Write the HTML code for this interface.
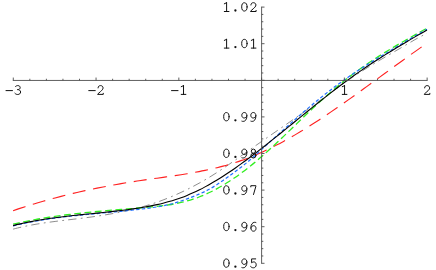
<!DOCTYPE html>
<html><head><meta charset="utf-8"><title>plot</title>
<style>
html,body{margin:0;padding:0;background:#fff;}
body{width:436px;height:270px;overflow:hidden;position:relative;font-family:"Liberation Mono",monospace;}
</style></head><body>
<svg width="436" height="270" viewBox="0 0 436 270" style="position:absolute;left:0;top:0">
<g fill="none" stroke-linecap="butt">
<path d="M13.10 229.12 C14.10 228.87 17.10 228.09 19.10 227.62 C21.10 227.15 23.10 226.71 25.10 226.29 C27.10 225.87 29.10 225.48 31.10 225.10 C33.10 224.73 35.09 224.38 37.09 224.05 C39.09 223.71 41.09 223.40 43.09 223.10 C45.09 222.79 47.09 222.51 49.09 222.23 C51.09 221.96 53.09 221.70 55.09 221.44 C57.09 221.18 59.09 220.94 61.09 220.70 C63.09 220.45 65.09 220.22 67.09 219.98 C69.09 219.75 71.09 219.51 73.09 219.28 C75.09 219.04 77.08 218.81 79.08 218.56 C81.08 218.32 83.08 218.08 85.08 217.82 C87.08 217.57 89.08 217.31 91.08 217.03 C93.08 216.76 95.08 216.47 97.08 216.18 C99.08 215.88 101.08 215.57 103.08 215.25 C105.08 214.93 107.08 214.59 109.08 214.24 C111.08 213.89 113.08 213.52 115.08 213.14 C117.07 212.76 119.07 212.36 121.07 211.95 C123.07 211.53 125.07 211.10 127.07 210.65 C129.07 210.20 131.07 209.73 133.07 209.24 C135.07 208.75 137.07 208.24 139.07 207.71 C141.07 207.17 143.07 206.62 145.07 206.03 C147.07 205.44 149.07 204.83 151.07 204.19 C153.07 203.55 155.07 202.88 157.07 202.18 C159.06 201.48 161.06 200.75 163.06 199.99 C165.06 199.23 167.06 198.45 169.06 197.63 C171.06 196.81 173.06 195.97 175.06 195.09 C177.06 194.22 179.06 193.32 181.06 192.39 C183.06 191.46 185.06 190.50 187.06 189.51 C189.06 188.52 191.06 187.50 193.06 186.46 C195.06 185.41 197.06 184.34 199.06 183.23 C201.05 182.13 203.05 180.99 205.05 179.82 C207.05 178.65 209.05 177.45 211.05 176.22 C213.05 174.98 215.05 173.71 217.05 172.42 C219.05 171.12 221.05 169.80 223.05 168.45 C225.05 167.11 227.05 165.74 229.05 164.37 C231.05 162.99 233.05 161.59 235.05 160.19 C237.05 158.78 239.05 157.37 241.04 155.95 C243.04 154.54 245.04 153.12 247.04 151.70 C249.04 150.29 251.04 148.88 253.04 147.47 C255.04 146.06 257.04 144.66 259.04 143.27 C261.04 141.87 263.04 140.48 265.04 139.09 C267.04 137.70 269.04 136.32 271.04 134.93 C273.04 133.54 275.04 132.16 277.04 130.77 C279.04 129.39 281.04 128.00 283.03 126.61 C285.03 125.22 287.03 123.83 289.03 122.44 C291.03 121.04 293.03 119.64 295.03 118.23 C297.03 116.83 299.03 115.42 301.03 114.01 C303.03 112.59 305.03 111.17 307.03 109.75 C309.03 108.33 311.03 106.90 313.03 105.47 C315.03 104.04 317.03 102.61 319.03 101.17 C321.03 99.74 323.03 98.30 325.02 96.85 C327.02 95.41 329.02 93.96 331.02 92.51 C333.02 91.07 335.02 89.61 337.02 88.17 C339.02 86.73 341.02 85.29 343.02 83.87 C345.02 82.45 347.02 81.04 349.02 79.67 C351.02 78.29 353.02 76.94 355.02 75.62 C357.02 74.29 359.02 72.99 361.02 71.71 C363.02 70.43 365.01 69.17 367.01 67.93 C369.01 66.68 371.01 65.46 373.01 64.25 C375.01 63.04 377.01 61.84 379.01 60.65 C381.01 59.46 383.01 58.29 385.01 57.11 C387.01 55.94 389.01 54.78 391.01 53.62 C393.01 52.45 395.01 51.30 397.01 50.14 C399.01 48.97 401.01 47.82 403.01 46.65 C405.01 45.48 407.00 44.31 409.00 43.14 C411.00 41.97 413.00 40.75 415.00 39.62 C417.00 38.49 419.00 37.43 421.00 36.36 C423.00 35.29 426.00 33.73 427.00 33.20" stroke="#808080" stroke-width="0.9" stroke-dasharray="8.3 4.4 1.8 4.13"/>
<path d="M13.10 210.66 C14.10 210.32 17.10 209.30 19.10 208.64 C21.10 207.97 23.10 207.32 25.10 206.68 C27.10 206.05 29.10 205.42 31.10 204.80 C33.10 204.18 35.09 203.58 37.09 202.98 C39.09 202.39 41.09 201.81 43.09 201.23 C45.09 200.66 47.09 200.10 49.09 199.54 C51.09 198.99 53.09 198.45 55.09 197.92 C57.09 197.38 59.09 196.86 61.09 196.35 C63.09 195.84 65.09 195.34 67.09 194.84 C69.09 194.35 71.09 193.87 73.09 193.39 C75.09 192.92 77.08 192.45 79.08 192.00 C81.08 191.54 83.08 191.09 85.08 190.65 C87.08 190.22 89.08 189.79 91.08 189.37 C93.08 188.94 95.08 188.53 97.08 188.13 C99.08 187.72 101.08 187.33 103.08 186.94 C105.08 186.55 107.08 186.17 109.08 185.80 C111.08 185.43 113.08 185.06 115.08 184.71 C117.07 184.35 119.07 184.00 121.07 183.66 C123.07 183.31 125.07 182.98 127.07 182.65 C129.07 182.32 131.07 182.00 133.07 181.69 C135.07 181.37 137.07 181.07 139.07 180.76 C141.07 180.46 143.07 180.17 145.07 179.88 C147.07 179.59 149.07 179.30 151.07 179.02 C153.07 178.74 155.07 178.46 157.07 178.18 C159.06 177.90 161.06 177.62 163.06 177.34 C165.06 177.05 167.06 176.77 169.06 176.48 C171.06 176.19 173.06 175.90 175.06 175.60 C177.06 175.31 179.06 175.00 181.06 174.69 C183.06 174.38 185.06 174.06 187.06 173.72 C189.06 173.39 191.06 173.05 193.06 172.70 C195.06 172.34 197.06 171.97 199.06 171.59 C201.05 171.21 203.05 170.81 205.05 170.39 C207.05 169.98 209.05 169.55 211.05 169.10 C213.05 168.65 215.05 168.18 217.05 167.68 C219.05 167.19 221.05 166.68 223.05 166.14 C225.05 165.60 227.05 165.05 229.05 164.46 C231.05 163.87 233.05 163.26 235.05 162.62 C237.05 161.98 239.05 161.31 241.04 160.61 C243.04 159.92 245.04 159.19 247.04 158.43 C249.04 157.67 251.04 156.88 253.04 156.06 C255.04 155.23 257.04 154.38 259.04 153.50 C261.04 152.62 263.04 151.71 265.04 150.78 C267.04 149.84 269.04 148.88 271.04 147.89 C273.04 146.90 275.04 145.89 277.04 144.85 C279.04 143.81 281.04 142.74 283.03 141.66 C285.03 140.57 287.03 139.46 289.03 138.33 C291.03 137.20 293.03 136.05 295.03 134.88 C297.03 133.70 299.03 132.51 301.03 131.30 C303.03 130.09 305.03 128.86 307.03 127.61 C309.03 126.36 311.03 125.10 313.03 123.82 C315.03 122.53 317.03 121.24 319.03 119.93 C321.03 118.62 323.03 117.29 325.02 115.95 C327.02 114.61 329.02 113.26 331.02 111.90 C333.02 110.53 335.02 109.16 337.02 107.77 C339.02 106.39 341.02 104.99 343.02 103.58 C345.02 102.18 347.02 100.76 349.02 99.34 C351.02 97.92 353.02 96.49 355.02 95.06 C357.02 93.62 359.02 92.18 361.02 90.74 C363.02 89.29 365.01 87.84 367.01 86.39 C369.01 84.94 371.01 83.48 373.01 82.02 C375.01 80.56 377.01 79.10 379.01 77.64 C381.01 76.18 383.01 74.72 385.01 73.26 C387.01 71.80 389.01 70.34 391.01 68.88 C393.01 67.42 395.01 65.97 397.01 64.52 C399.01 63.07 401.01 61.62 403.01 60.18 C405.01 58.74 407.00 57.30 409.00 55.87 C411.00 54.44 413.00 53.02 415.00 51.60 C417.00 50.19 419.00 48.78 421.00 47.38 C423.00 45.98 426.00 43.91 427.00 43.22" stroke="#ff2020" stroke-width="1.1" stroke-dasharray="13 7.710"/>
<path d="M13.10 224.20 C14.10 223.97 17.10 223.27 19.10 222.83 C21.10 222.39 23.10 221.97 25.10 221.56 C27.10 221.15 29.10 220.75 31.10 220.37 C33.10 219.98 35.09 219.61 37.09 219.26 C39.09 218.90 41.09 218.55 43.09 218.22 C45.09 217.89 47.09 217.57 49.09 217.26 C51.09 216.95 53.09 216.65 55.09 216.36 C57.09 216.07 59.09 215.79 61.09 215.52 C63.09 215.25 65.09 215.00 67.09 214.74 C69.09 214.49 71.09 214.25 73.09 214.01 C75.09 213.78 77.08 213.55 79.08 213.33 C81.08 213.11 83.08 212.90 85.08 212.69 C87.08 212.48 89.08 212.28 91.08 212.09 C93.08 211.89 95.08 211.70 97.08 211.52 C99.08 211.33 101.08 211.15 103.08 210.97 C105.08 210.80 107.08 210.62 109.08 210.45 C111.08 210.28 113.08 210.11 115.08 209.95 C117.07 209.78 119.07 209.62 121.07 209.45 C123.07 209.29 125.07 209.13 127.07 208.97 C129.07 208.81 131.07 208.65 133.07 208.49 C135.07 208.33 137.07 208.17 139.07 208.00 C141.07 207.83 143.07 207.66 145.07 207.49 C147.07 207.31 149.07 207.13 151.07 206.94 C153.07 206.74 155.07 206.55 157.07 206.33 C159.06 206.11 161.06 205.88 163.06 205.61 C165.06 205.35 167.06 205.08 169.06 204.76 C171.06 204.45 173.06 204.11 175.06 203.73 C177.06 203.35 179.06 202.94 181.06 202.48 C183.06 202.02 185.06 201.52 187.06 200.97 C189.06 200.41 191.06 199.81 193.06 199.15 C195.06 198.49 197.06 197.78 199.06 197.01 C201.05 196.25 203.05 195.43 205.05 194.55 C207.05 193.68 209.05 192.75 211.05 191.76 C213.05 190.78 215.05 189.74 217.05 188.65 C219.05 187.56 221.05 186.42 223.05 185.22 C225.05 184.03 227.05 182.79 229.05 181.50 C231.05 180.21 233.05 178.87 235.05 177.49 C237.05 176.11 239.05 174.68 241.04 173.20 C243.04 171.73 245.04 170.22 247.04 168.66 C249.04 167.10 251.04 165.51 253.04 163.87 C255.04 162.23 257.04 160.56 259.04 158.84 C261.04 157.13 263.04 155.38 265.04 153.60 C267.04 151.82 269.04 150.00 271.04 148.16 C273.04 146.33 275.04 144.46 277.04 142.58 C279.04 140.69 281.04 138.79 283.03 136.88 C285.03 134.96 287.03 133.03 289.03 131.10 C291.03 129.17 293.03 127.23 295.03 125.30 C297.03 123.37 299.03 121.43 301.03 119.51 C303.03 117.58 305.03 115.66 307.03 113.76 C309.03 111.86 311.03 109.97 313.03 108.10 C315.03 106.24 317.03 104.39 319.03 102.56 C321.03 100.74 323.03 98.93 325.02 97.15 C327.02 95.37 329.02 93.62 331.02 91.89 C333.02 90.16 335.02 88.45 337.02 86.78 C339.02 85.11 341.02 83.46 343.02 81.85 C345.02 80.24 347.02 78.66 349.02 77.11 C351.02 75.56 353.02 74.05 355.02 72.57 C357.02 71.09 359.02 69.64 361.02 68.22 C363.02 66.80 365.01 65.41 367.01 64.04 C369.01 62.68 371.01 61.34 373.01 60.02 C375.01 58.71 377.01 57.42 379.01 56.14 C381.01 54.87 383.01 53.62 385.01 52.39 C387.01 51.16 389.01 49.94 391.01 48.74 C393.01 47.54 395.01 46.35 397.01 45.18 C399.01 44.01 401.01 42.85 403.01 41.69 C405.01 40.54 407.00 39.40 409.00 38.26 C411.00 37.12 413.00 35.99 415.00 34.86 C417.00 33.74 419.00 32.61 421.00 31.49 C423.00 30.36 426.00 28.68 427.00 28.12" stroke="#30ee20" stroke-width="1.3" stroke-dasharray="6.8 3.54"/>
<path d="M13.10 225.97 C14.10 225.72 17.10 224.97 19.10 224.50 C21.10 224.03 23.10 223.59 25.10 223.16 C27.10 222.73 29.10 222.33 31.10 221.94 C33.10 221.55 35.09 221.18 37.09 220.83 C39.09 220.47 41.09 220.14 43.09 219.81 C45.09 219.49 47.09 219.18 49.09 218.89 C51.09 218.59 53.09 218.31 55.09 218.04 C57.09 217.77 59.09 217.51 61.09 217.26 C63.09 217.02 65.09 216.78 67.09 216.55 C69.09 216.32 71.09 216.10 73.09 215.88 C75.09 215.67 77.08 215.46 79.08 215.26 C81.08 215.06 83.08 214.86 85.08 214.67 C87.08 214.48 89.08 214.29 91.08 214.10 C93.08 213.92 95.08 213.73 97.08 213.55 C99.08 213.36 101.08 213.18 103.08 213.00 C105.08 212.81 107.08 212.63 109.08 212.44 C111.08 212.25 113.08 212.06 115.08 211.87 C117.07 211.68 119.07 211.48 121.07 211.28 C123.07 211.07 125.07 210.87 127.07 210.66 C129.07 210.44 131.07 210.23 133.07 210.01 C135.07 209.79 137.07 209.56 139.07 209.32 C141.07 209.09 143.07 208.85 145.07 208.59 C147.07 208.33 149.07 208.07 151.07 207.79 C153.07 207.51 155.07 207.23 157.07 206.90 C159.06 206.57 161.06 206.23 163.06 205.84 C165.06 205.44 167.06 205.01 169.06 204.52 C171.06 204.03 173.06 203.48 175.06 202.89 C177.06 202.30 179.06 201.65 181.06 200.98 C183.06 200.31 185.06 199.59 187.06 198.86 C189.06 198.13 191.06 197.38 193.06 196.60 C195.06 195.82 197.06 195.03 199.06 194.16 C201.05 193.30 203.05 192.41 205.05 191.42 C207.05 190.42 209.05 189.37 211.05 188.21 C213.05 187.06 215.05 185.80 217.05 184.50 C219.05 183.20 221.05 181.81 223.05 180.41 C225.05 179.01 227.05 177.55 229.05 176.10 C231.05 174.66 233.05 173.21 235.05 171.73 C237.05 170.25 239.05 168.77 241.04 167.22 C243.04 165.68 245.04 164.11 247.04 162.46 C249.04 160.80 251.04 159.08 253.04 157.31 C255.04 155.54 257.04 153.68 259.04 151.86 C261.04 150.03 263.04 148.18 265.04 146.35 C267.04 144.53 269.04 142.72 271.04 140.91 C273.04 139.11 275.04 137.32 277.04 135.53 C279.04 133.74 281.04 131.96 283.03 130.19 C285.03 128.41 287.03 126.64 289.03 124.87 C291.03 123.10 293.03 121.32 295.03 119.56 C297.03 117.80 299.03 116.04 301.03 114.30 C303.03 112.56 305.03 110.82 307.03 109.11 C309.03 107.41 311.03 105.71 313.03 104.04 C315.03 102.38 317.03 100.73 319.03 99.11 C321.03 97.49 323.03 95.89 325.02 94.31 C327.02 92.74 329.02 91.19 331.02 89.66 C333.02 88.14 335.02 86.63 337.02 85.16 C339.02 83.68 341.02 82.23 343.02 80.80 C345.02 79.37 347.02 77.97 349.02 76.60 C351.02 75.22 353.02 73.88 355.02 72.55 C357.02 71.22 359.02 69.92 361.02 68.64 C363.02 67.35 365.01 66.09 367.01 64.84 C369.01 63.58 371.01 62.35 373.01 61.12 C375.01 59.89 377.01 58.68 379.01 57.47 C381.01 56.25 383.01 55.05 385.01 53.84 C387.01 52.64 389.01 51.44 391.01 50.23 C393.01 49.03 395.01 47.82 397.01 46.61 C399.01 45.41 401.01 44.21 403.01 43.02 C405.01 41.83 407.00 40.64 409.00 39.46 C411.00 38.29 413.00 37.13 415.00 35.98 C417.00 34.84 419.00 33.70 421.00 32.59 C423.00 31.49 426.00 29.87 427.00 29.33" stroke="#2070ff" stroke-width="1.2" stroke-dasharray="3.4 2.25"/>
<path d="M13.10 225.62 C14.10 225.37 17.10 224.62 19.10 224.15 C21.10 223.69 23.10 223.25 25.10 222.82 C27.10 222.40 29.10 221.99 31.10 221.61 C33.10 221.22 35.09 220.85 37.09 220.50 C39.09 220.15 41.09 219.82 43.09 219.49 C45.09 219.17 47.09 218.87 49.09 218.58 C51.09 218.28 53.09 218.00 55.09 217.73 C57.09 217.46 59.09 217.21 61.09 216.96 C63.09 216.71 65.09 216.47 67.09 216.23 C69.09 216.00 71.09 215.78 73.09 215.56 C75.09 215.34 77.08 215.13 79.08 214.91 C81.08 214.70 83.08 214.50 85.08 214.29 C87.08 214.09 89.08 213.89 91.08 213.69 C93.08 213.49 95.08 213.29 97.08 213.08 C99.08 212.88 101.08 212.68 103.08 212.47 C105.08 212.26 107.08 212.05 109.08 211.83 C111.08 211.62 113.08 211.40 115.08 211.17 C117.07 210.94 119.07 210.71 121.07 210.46 C123.07 210.22 125.07 209.97 127.07 209.71 C129.07 209.44 131.07 209.17 133.07 208.89 C135.07 208.60 137.07 208.30 139.07 207.99 C141.07 207.67 143.07 207.34 145.07 206.99 C147.07 206.64 149.07 206.27 151.07 205.87 C153.07 205.47 155.07 205.06 157.07 204.61 C159.06 204.16 161.06 203.69 163.06 203.18 C165.06 202.67 167.06 202.14 169.06 201.57 C171.06 200.99 173.06 200.39 175.06 199.75 C177.06 199.10 179.06 198.42 181.06 197.70 C183.06 196.97 185.06 196.21 187.06 195.40 C189.06 194.59 191.06 193.73 193.06 192.83 C195.06 191.93 197.06 190.98 199.06 189.99 C201.05 189.00 203.05 187.96 205.05 186.89 C207.05 185.81 209.05 184.70 211.05 183.55 C213.05 182.40 215.05 181.21 217.05 179.99 C219.05 178.78 221.05 177.52 223.05 176.23 C225.05 174.95 227.05 173.63 229.05 172.29 C231.05 170.95 233.05 169.57 235.05 168.18 C237.05 166.78 239.05 165.36 241.04 163.91 C243.04 162.47 245.04 161.00 247.04 159.51 C249.04 158.03 251.04 156.52 253.04 155.00 C255.04 153.48 257.04 151.94 259.04 150.39 C261.04 148.84 263.04 147.27 265.04 145.70 C267.04 144.12 269.04 142.54 271.04 140.94 C273.04 139.35 275.04 137.74 277.04 136.13 C279.04 134.52 281.04 132.90 283.03 131.28 C285.03 129.66 287.03 128.03 289.03 126.41 C291.03 124.78 293.03 123.15 295.03 121.52 C297.03 119.89 299.03 118.26 301.03 116.63 C303.03 115.00 305.03 113.37 307.03 111.75 C309.03 110.13 311.03 108.51 313.03 106.90 C315.03 105.30 317.03 103.69 319.03 102.10 C321.03 100.50 323.03 98.91 325.02 97.34 C327.02 95.76 329.02 94.20 331.02 92.65 C333.02 91.10 335.02 89.56 337.02 88.04 C339.02 86.51 341.02 85.01 343.02 83.52 C345.02 82.03 347.02 80.55 349.02 79.10 C351.02 77.65 353.02 76.22 355.02 74.80 C357.02 73.39 359.02 72.00 361.02 70.62 C363.02 69.24 365.01 67.89 367.01 66.54 C369.01 65.20 371.01 63.88 373.01 62.57 C375.01 61.26 377.01 59.96 379.01 58.68 C381.01 57.40 383.01 56.13 385.01 54.88 C387.01 53.63 389.01 52.39 391.01 51.16 C393.01 49.93 395.01 48.71 397.01 47.50 C399.01 46.30 401.01 45.10 403.01 43.91 C405.01 42.73 407.00 41.55 409.00 40.38 C411.00 39.21 413.00 38.05 415.00 36.89 C417.00 35.73 419.00 34.59 421.00 33.44 C423.00 32.30 426.00 30.60 427.00 30.03" stroke="#000000" stroke-width="1.1"/>
</g>
<g stroke="#4d4d4d" stroke-width="0.90" fill="none" shape-rendering="auto">
<path d="M12.84 80.45 H427.59"/>
<path d="M261.60 6.65 V263.75"/>
<path d="M13.29 80.45 v-2.90M29.84 80.45 v-1.70M46.40 80.45 v-1.70M62.95 80.45 v-1.70M79.51 80.45 v-1.70M96.06 80.45 v-2.90M112.61 80.45 v-1.70M129.17 80.45 v-1.70M145.72 80.45 v-1.70M162.28 80.45 v-1.70M178.83 80.45 v-2.90M195.38 80.45 v-1.70M211.94 80.45 v-1.70M228.49 80.45 v-1.70M245.05 80.45 v-1.70M261.60 80.45 v-2.90M278.15 80.45 v-1.70M294.71 80.45 v-1.70M311.26 80.45 v-1.70M327.82 80.45 v-1.70M344.37 80.45 v-2.90M360.92 80.45 v-1.70M377.48 80.45 v-1.70M394.03 80.45 v-1.70M410.59 80.45 v-1.70M427.14 80.45 v-2.90"/>
<path d="M261.60 263.30 h2.90M261.60 255.98 h1.70M261.60 248.66 h1.70M261.60 241.34 h1.70M261.60 234.02 h1.70M261.60 226.70 h2.90M261.60 219.38 h1.70M261.60 212.06 h1.70M261.60 204.74 h1.70M261.60 197.42 h1.70M261.60 190.10 h2.90M261.60 182.78 h1.70M261.60 175.46 h1.70M261.60 168.14 h1.70M261.60 160.82 h1.70M261.60 153.50 h2.90M261.60 146.18 h1.70M261.60 138.86 h1.70M261.60 131.54 h1.70M261.60 124.22 h1.70M261.60 116.90 h2.90M261.60 109.58 h1.70M261.60 102.26 h1.70M261.60 94.94 h1.70M261.60 87.62 h1.70M261.60 80.30 h2.90M261.60 72.98 h1.70M261.60 65.66 h1.70M261.60 58.34 h1.70M261.60 51.02 h1.70M261.60 43.70 h2.90M261.60 36.38 h1.70M261.60 29.06 h1.70M261.60 21.74 h1.70M261.60 14.42 h1.70M261.60 7.10 h2.90"/>
</g>
<g fill="none" stroke="#111" stroke-width="1.00" stroke-linecap="round" stroke-linejoin="round">
<g transform="translate(8.79 94.40)"><path d="M-2.8 -3.8H3.7"/></g>
<g transform="translate(17.79 94.40)"><path d="M-2.3 -7.9C-1.6 -8.6 -0.8 -8.8 0.1 -8.8C1.5 -8.8 2.4 -7.9 2.4 -6.8C2.4 -5.6 1.3 -4.8 -0.4 -4.8C1.5 -4.8 2.8 -3.9 2.8 -2.4C2.8 -0.9 1.6 0.1 -0.1 0.1C-1.2 0.1 -2.2 -0.3 -2.9 -1.1"/></g>
<g transform="translate(91.56 94.40)"><path d="M-2.8 -3.8H3.7"/></g>
<g transform="translate(100.56 94.40)"><path d="M-2.5 -6.5C-2.5 -8.1 -1.4 -8.8 0 -8.8C1.5 -8.8 2.5 -7.8 2.5 -6.5C2.5 -5.1 1.3 -4 -0.2 -2.7L-2.9 -0.3V0H2.7V-1.1"/></g>
<g transform="translate(174.33 94.40)"><path d="M-2.8 -3.8H3.7"/></g>
<g transform="translate(183.33 94.40)"><path d="M0.2 -8.8V0M-2.1 -7.7L0.2 -8.8M-2.1 0H2.55"/></g>
<g transform="translate(344.37 94.40)"><path d="M0.2 -8.8V0M-2.1 -7.7L0.2 -8.8M-2.1 0H2.55"/></g>
<g transform="translate(427.14 94.40)"><path d="M-2.5 -6.5C-2.5 -8.1 -1.4 -8.8 0 -8.8C1.5 -8.8 2.5 -7.8 2.5 -6.5C2.5 -5.1 1.3 -4 -0.2 -2.7L-2.9 -0.3V0H2.7V-1.1"/></g>
<g transform="translate(226.40 11.50)"><path d="M0.2 -8.8V0M-2.1 -7.7L0.2 -8.8M-2.1 0H2.55"/></g>
<g transform="translate(235.40 11.50)"><circle cx="0" cy="-1.0" r="1.15" fill="#111" stroke="none"/></g>
<g transform="translate(244.40 11.50)"><ellipse cx="0" cy="-4.6" rx="2.7" ry="4.15"/></g>
<g transform="translate(253.40 11.50)"><path d="M-2.5 -6.5C-2.5 -8.1 -1.4 -8.8 0 -8.8C1.5 -8.8 2.5 -7.8 2.5 -6.5C2.5 -5.1 1.3 -4 -0.2 -2.7L-2.9 -0.3V0H2.7V-1.1"/></g>
<g transform="translate(226.40 48.10)"><path d="M0.2 -8.8V0M-2.1 -7.7L0.2 -8.8M-2.1 0H2.55"/></g>
<g transform="translate(235.40 48.10)"><circle cx="0" cy="-1.0" r="1.15" fill="#111" stroke="none"/></g>
<g transform="translate(244.40 48.10)"><ellipse cx="0" cy="-4.6" rx="2.7" ry="4.15"/></g>
<g transform="translate(253.40 48.10)"><path d="M0.2 -8.8V0M-2.1 -7.7L0.2 -8.8M-2.1 0H2.55"/></g>
<g transform="translate(226.40 121.30)"><ellipse cx="0" cy="-4.6" rx="2.7" ry="4.15"/></g>
<g transform="translate(235.40 121.30)"><circle cx="0" cy="-1.0" r="1.15" fill="#111" stroke="none"/></g>
<g transform="translate(244.40 121.30)"><g transform="rotate(180 0 -4.35)"><path d="M2.5 -8.6C2 -8.8 1.6 -8.8 1.2 -8.8C-1 -8.8 -2.5 -6.5 -2.5 -3.4C-2.5 -1.2 -1.5 0.1 0.1 0.1C1.6 0.1 2.6 -1.1 2.6 -2.7C2.6 -4.3 1.6 -5.4 0.2 -5.4C-1.1 -5.4 -2.2 -4.4 -2.5 -3"/></g></g>
<g transform="translate(253.40 121.30)"><g transform="rotate(180 0 -4.35)"><path d="M2.5 -8.6C2 -8.8 1.6 -8.8 1.2 -8.8C-1 -8.8 -2.5 -6.5 -2.5 -3.4C-2.5 -1.2 -1.5 0.1 0.1 0.1C1.6 0.1 2.6 -1.1 2.6 -2.7C2.6 -4.3 1.6 -5.4 0.2 -5.4C-1.1 -5.4 -2.2 -4.4 -2.5 -3"/></g></g>
<g transform="translate(226.40 157.90)"><ellipse cx="0" cy="-4.6" rx="2.7" ry="4.15"/></g>
<g transform="translate(235.40 157.90)"><circle cx="0" cy="-1.0" r="1.15" fill="#111" stroke="none"/></g>
<g transform="translate(244.40 157.90)"><g transform="rotate(180 0 -4.35)"><path d="M2.5 -8.6C2 -8.8 1.6 -8.8 1.2 -8.8C-1 -8.8 -2.5 -6.5 -2.5 -3.4C-2.5 -1.2 -1.5 0.1 0.1 0.1C1.6 0.1 2.6 -1.1 2.6 -2.7C2.6 -4.3 1.6 -5.4 0.2 -5.4C-1.1 -5.4 -2.2 -4.4 -2.5 -3"/></g></g>
<g transform="translate(253.40 157.90)"><ellipse cx="0" cy="-6.7" rx="2.1" ry="2.1"/><ellipse cx="0" cy="-2.25" rx="2.55" ry="2.35"/></g>
<g transform="translate(226.40 194.50)"><ellipse cx="0" cy="-4.6" rx="2.7" ry="4.15"/></g>
<g transform="translate(235.40 194.50)"><circle cx="0" cy="-1.0" r="1.15" fill="#111" stroke="none"/></g>
<g transform="translate(244.40 194.50)"><g transform="rotate(180 0 -4.35)"><path d="M2.5 -8.6C2 -8.8 1.6 -8.8 1.2 -8.8C-1 -8.8 -2.5 -6.5 -2.5 -3.4C-2.5 -1.2 -1.5 0.1 0.1 0.1C1.6 0.1 2.6 -1.1 2.6 -2.7C2.6 -4.3 1.6 -5.4 0.2 -5.4C-1.1 -5.4 -2.2 -4.4 -2.5 -3"/></g></g>
<g transform="translate(253.40 194.50)"><path d="M-2.6 -7.6V-8.8H2.5V-8.3L0.1 0"/></g>
<g transform="translate(226.40 231.10)"><ellipse cx="0" cy="-4.6" rx="2.7" ry="4.15"/></g>
<g transform="translate(235.40 231.10)"><circle cx="0" cy="-1.0" r="1.15" fill="#111" stroke="none"/></g>
<g transform="translate(244.40 231.10)"><g transform="rotate(180 0 -4.35)"><path d="M2.5 -8.6C2 -8.8 1.6 -8.8 1.2 -8.8C-1 -8.8 -2.5 -6.5 -2.5 -3.4C-2.5 -1.2 -1.5 0.1 0.1 0.1C1.6 0.1 2.6 -1.1 2.6 -2.7C2.6 -4.3 1.6 -5.4 0.2 -5.4C-1.1 -5.4 -2.2 -4.4 -2.5 -3"/></g></g>
<g transform="translate(253.40 231.10)"><path d="M2.5 -8.6C2 -8.8 1.6 -8.8 1.2 -8.8C-1 -8.8 -2.5 -6.5 -2.5 -3.4C-2.5 -1.2 -1.5 0.1 0.1 0.1C1.6 0.1 2.6 -1.1 2.6 -2.7C2.6 -4.3 1.6 -5.4 0.2 -5.4C-1.1 -5.4 -2.2 -4.4 -2.5 -3"/></g>
<g transform="translate(226.40 267.70)"><ellipse cx="0" cy="-4.6" rx="2.7" ry="4.15"/></g>
<g transform="translate(235.40 267.70)"><circle cx="0" cy="-1.0" r="1.15" fill="#111" stroke="none"/></g>
<g transform="translate(244.40 267.70)"><g transform="rotate(180 0 -4.35)"><path d="M2.5 -8.6C2 -8.8 1.6 -8.8 1.2 -8.8C-1 -8.8 -2.5 -6.5 -2.5 -3.4C-2.5 -1.2 -1.5 0.1 0.1 0.1C1.6 0.1 2.6 -1.1 2.6 -2.7C2.6 -4.3 1.6 -5.4 0.2 -5.4C-1.1 -5.4 -2.2 -4.4 -2.5 -3"/></g></g>
<g transform="translate(253.40 267.70)"><path d="M2.3 -8.8H-1.8V-4.9C-1.1 -5.5 -0.3 -5.8 0.4 -5.8C1.8 -5.8 2.8 -4.6 2.8 -2.9C2.8 -1.1 1.6 0.1 0 0.1C-1.1 0.1 -2.1 -0.4 -2.8 -1.2"/></g>
</g>
</svg>
</body></html>
